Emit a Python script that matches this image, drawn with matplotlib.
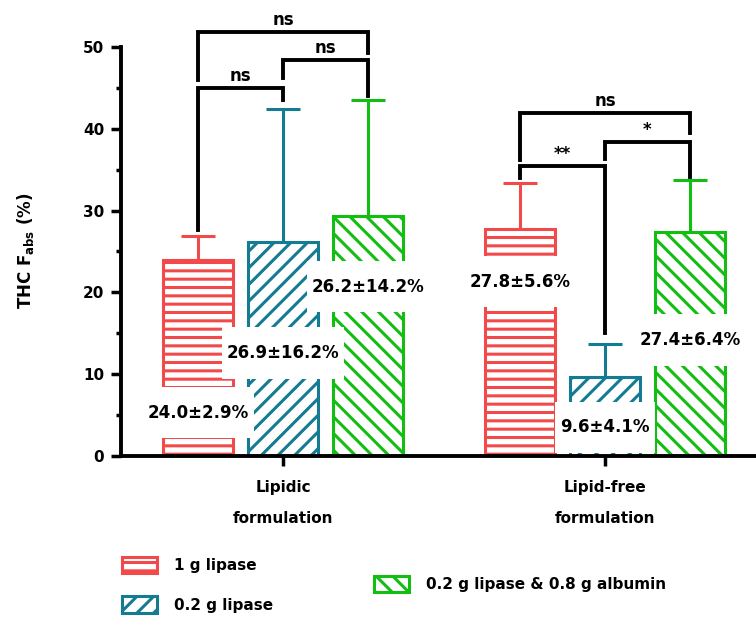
import matplotlib
matplotlib.use("Agg")
import matplotlib.pyplot as plt
from matplotlib.patches import Patch
from matplotlib.path import Path
import numpy as np

# data
groups = ["Lipidic\nformulation", "Lipid-free\nformulation"]
series = ["1 g lipase", "0.2 g lipase", "0.2 g lipase & 0.8 g albumin"]
means = {
    "1 g lipase": [24.0, 27.8],
    "0.2 g lipase": [26.2, 9.6],
    "0.2 g lipase & 0.8 g albumin": [29.3, 27.4],
}
errs = {
    "1 g lipase": [2.9, 5.6],
    "0.2 g lipase": [16.2, 4.1],
    "0.2 g lipase & 0.8 g albumin": [14.2, 6.4],
}
value_labels = {
    "1 g lipase": ["24.0±2.9%", "27.8±5.6%"],
    "0.2 g lipase": ["26.9±16.2%", "9.6±4.1%"],
    "0.2 g lipase & 0.8 g albumin": ["26.2±14.2%", "27.4±6.4%"],
}
# vertical place of the value labels (data units)
label_y = {
    "1 g lipase": [5.3, 21.3],
    "0.2 g lipase": [12.6, 3.5],
    "0.2 g lipase & 0.8 g albumin": [20.7, 14.2],
}
# significance brackets: group, left series, right series, left foot, top, right foot, text
brackets = [
    (0, 0, 1, 27.6, 45.0, 43.5, "ns"),
    (0, 1, 2, 46.2, 48.4, 44.0, "ns"),
    (0, 0, 2, 46.0, 51.8, 49.3, "ns"),
    (1, 0, 1, 34.0, 35.4, 15.0, "**"),
    (1, 1, 2, 36.3, 38.4, 34.1, "*"),
    (1, 0, 2, 36.2, 41.9, 39.5, "ns"),
]

colors = ["#F24A4A", "#157B92", "#12BE12"]
hatches = ["--", "//", "\\\\"]

plt.rcParams["font.family"] = ["DejaVu Sans"]
plt.rcParams["font.weight"] = "bold"
plt.rcParams["hatch.linewidth"] = 2.2


def tall_box(x0, y0, width, height, mutation_size):
    # white box with more room above/below than left/right
    px = 0.3 * mutation_size
    py = 1.0 * mutation_size
    x0, y0 = x0 - px, y0 - py
    x1, y1 = x0 + width + 2 * px, y0 + height + 2 * py
    return Path([(x0, y0), (x1, y0), (x1, y1), (x0, y1), (x0, y0)], closed=True)


fig = plt.figure(figsize=(7.56, 6.19), dpi=100)
ax = fig.add_axes([121 / 756, 163 / 619, 635 / 756, 409 / 619])

x = np.arange(len(groups))
offset = 0.264
width = 0.217

for i, s in enumerate(series):
    pos = x + (i - 1) * offset
    ax.bar(pos, means[s], width, facecolor="white", edgecolor=colors[i],
           hatch=hatches[i], linewidth=2.2, zorder=2)
    ax.errorbar(pos, means[s], yerr=[np.zeros(len(groups)), errs[s]], fmt="none",
                ecolor=colors[i], elinewidth=2.2, capsize=12, capthick=2.2, zorder=3)
    for j in range(len(groups)):
        ax.text(pos[j], label_y[s][j], value_labels[s][j], ha="center", va="center",
                fontsize=12, fontweight="bold", zorder=5,
                bbox=dict(boxstyle=tall_box, facecolor="white", edgecolor="none"))

for g, a, b, yl, yt, yr, txt in brackets:
    xa = x[g] + (a - 1) * offset
    xb = x[g] + (b - 1) * offset
    ax.plot([xa, xa, xb, xb], [yl, yt, yt, yr], color="black", lw=2.8,
            solid_joinstyle="miter", clip_on=False, zorder=6)
    ax.text((xa + xb) / 2, yt + 0.4, txt, ha="center", va="bottom",
            fontsize=12, fontweight="bold", zorder=6)

ax.set_xlim(-0.503, 1.469)
ax.set_ylim(0, 50)
ax.set_xticks(x)
ax.set_xticklabels(groups, fontsize=11, fontweight="bold", linespacing=2.4)
ax.set_yticks(np.arange(0, 51, 10))
ax.set_yticks(np.arange(5, 50, 10), minor=True)
ax.tick_params(axis="y", which="major", length=7, width=2.5, labelsize=11, pad=5)
ax.tick_params(axis="y", which="minor", length=3.5, width=2.5)
ax.tick_params(axis="x", length=7, width=2.5, pad=10)
for sp in ["top", "right"]:
    ax.spines[sp].set_visible(False)
for sp in ["left", "bottom"]:
    ax.spines[sp].set_linewidth(2.8)

fig.text(25 / 756, 1 - 251 / 619, r"THC F$_\mathbf{abs}$ (%)", rotation=90,
         ha="center", va="center", fontsize=12, fontweight="bold")

handles = [Patch(facecolor="white", edgecolor=colors[i], hatch=hatches[i], linewidth=2.2)
           for i in range(len(series))]
fig.legend(handles=handles[:2], labels=series[:2], loc="upper left",
           bbox_to_anchor=(108 / 756, 1 - 543 / 619), frameon=False,
           handlelength=2.3, handleheight=1.3, labelspacing=1.5, handletextpad=1.1,
           prop=dict(weight="bold", size=11))
fig.legend(handles=handles[2:], labels=series[2:], loc="upper left",
           bbox_to_anchor=(360 / 756, 1 - 562 / 619), frameon=False,
           handlelength=2.3, handleheight=1.3, handletextpad=1.1,
           prop=dict(weight="bold", size=11))

fig.savefig("out.png", dpi=100)
